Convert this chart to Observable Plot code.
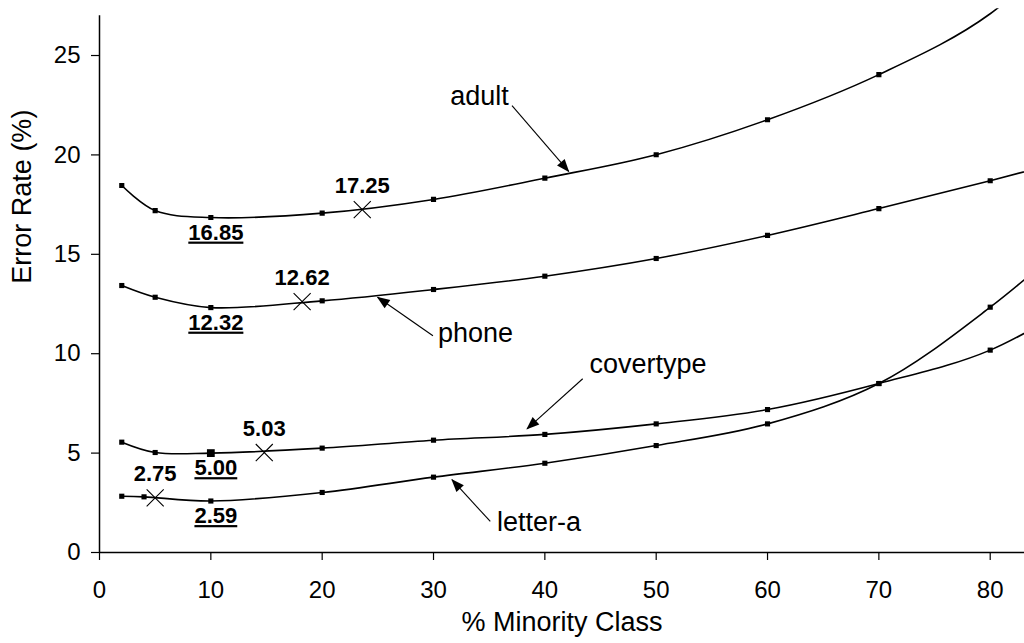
<!DOCTYPE html>
<html><head><meta charset="utf-8">
<script src="https://cdn.jsdelivr.net/npm/d3@7"></script>
<script src="https://cdn.jsdelivr.net/npm/@observablehq/plot@0.6"></script>
<style>
html,body{margin:0;padding:0;background:#fff;}
.ul text{text-decoration:underline;}
</style></head>
<body><div id="chart"></div>
<script>
// ---- data ----
const minority      = [2, 5, 10, 20, 30, 40, 50, 60, 70, 80, 90];
const minorityLetter = [2, 4, 10, 20, 30, 40, 50, 60, 70, 80, 90];
const adultErr     = [18.46, 17.20, 16.85, 17.07, 17.76, 18.83, 20.01, 21.77, 24.04, 27.1, 32.4];
const phoneErr     = [13.43, 12.84, 12.32, 12.66, 13.23, 13.90, 14.79, 15.95, 17.30, 18.70, 20.2];
const covertypeErr = [5.55, 5.03, 5.00, 5.25, 5.65, 5.94, 6.47, 7.19, 8.50, 10.18, 13.3];
const letterErr    = [2.83, 2.80, 2.59, 3.02, 3.79, 4.49, 5.38, 6.47, 8.50, 12.34, 17.1];

// cost-based optimum markers (X) and their values
const crossSeries = ["adult", "phone", "covertype", "letter-a"];
const crossX      = [23.6, 18.2, 14.8, 5.0];
const crossY      = [17.25, 12.62, 5.03, 2.75];

// series name labels and their arrows (data coordinates)
const labelNames = ["adult", "phone", "covertype", "letter-a"];
const labelX     = [31.5, 30.4, 44.0, 35.7];
const labelY     = [22.95, 11.03, 9.47, 1.52];
const arrowX1    = [37.05, 29.95, 43.40, 35.10];
const arrowY1    = [22.48, 10.90, 8.74, 1.56];
const arrowX2    = [42.14, 24.98, 38.40, 31.66];
const arrowY2    = [19.17, 12.84, 6.22, 3.66];

const xTicks = [0, 10, 20, 30, 40, 50, 60, 70, 80];
const yTicks = [0, 5, 10, 15, 20, 25];
const yAxisMax = 27;

// ---- build tables ----
const seriesDefs = [
  ["adult", minority, adultErr],
  ["phone", minority, phoneErr],
  ["covertype", minority, covertypeErr],
  ["letter-a", minorityLetter, letterErr]
];
const rows = [];
for (const [name, xs, ys] of seriesDefs) xs.forEach((x, i) => rows.push({series: name, x, y: ys[i]}));
const visible = rows.filter(d => d.x <= 83 && d.y <= yAxisMax);
const minRows = rows.filter(d => d.x === 10);
const crosses = crossSeries.map((s, i) => ({series: s, x: crossX[i], y: crossY[i]}));
const labels = labelNames.map((s, i) => ({text: s, x: labelX[i], y: labelY[i]}));
const arrows = labelNames.map((s, i) => ({x1: arrowX1[i], y1: arrowY1[i], x2: arrowX2[i], y2: arrowY2[i]}));

const FONT = "'Liberation Sans', Arial, Helvetica, sans-serif";

function filledArrow(color) {
  const ns = "http://www.w3.org/2000/svg";
  const m = document.createElementNS(ns, "marker");
  m.setAttribute("viewBox", "-14 -6 16 12");
  m.setAttribute("markerWidth", "16");
  m.setAttribute("markerHeight", "12");
  m.setAttribute("refX", "0");
  m.setAttribute("refY", "0");
  m.setAttribute("markerUnits", "userSpaceOnUse");
  m.setAttribute("orient", "auto");
  m.setAttribute("overflow", "visible");
  const p = document.createElementNS(ns, "path");
  p.setAttribute("d", "M1,0L-12,-5L-12,5Z");
  p.setAttribute("fill", color || "black");
  p.setAttribute("stroke", "none");
  m.appendChild(p);
  return m;
}

function build(marker) {
  return Plot.plot({
    width: 1024,
    height: 643,
    marginLeft: 99,
    marginRight: 0,
    marginTop: 8.3,
    marginBottom: 91,
    style: {fontFamily: FONT, background: "white", color: "black", overflow: "visible"},
    x: {domain: [0, 83.08]},
    y: {domain: [0, 27.35]},
    marks: [
      Plot.axisX({ticks: xTicks, tickSize: 8, tickPadding: 20, fontSize: 24, label: null, stroke: "black", strokeWidth: 1.2}),
      Plot.axisY({ticks: yTicks, tickSize: 8, tickPadding: 11, fontSize: 24, label: null, stroke: "black", strokeWidth: 1.2}),
      Plot.ruleY([0], {stroke: "black", strokeWidth: 1.5}),
      Plot.ruleX([0], {y1: 0, y2: yAxisMax, stroke: "black", strokeWidth: 1.5}),
      Plot.line(rows, {x: "x", y: "y", z: "series", curve: "catmull-rom", stroke: "black", strokeWidth: 1.6, clip: true}),
      Plot.dot(visible, {x: "x", y: "y", symbol: "square", r: 2.9, fill: "black", clip: true}),
      Plot.dot(minRows.filter(d => d.series === "covertype"), {x: "x", y: "y", symbol: "square", r: 4.4, fill: "black"}),
      Plot.dot(crosses, {x: "x", y: "y", symbol: "times", r: 7.8, stroke: "black", strokeWidth: 1.1}),
      Plot.text(crosses, {x: "x", y: "y", text: d => d.y.toFixed(2), dy: -24, dx: 0, fontWeight: "bold", fontSize: 22, fill: "black"}),
      Plot.text(minRows, {x: "x", y: "y", text: d => d.y.toFixed(2), dy: 15, dx: 5, fontWeight: "bold", fontSize: 22, fill: "black", className: "ul"}),
      Plot.link(arrows, {x1: "x1", y1: "y1", x2: "x2", y2: "y2", stroke: "black", strokeWidth: 1.1, markerEnd: marker}),
      Plot.text(labels, {x: "x", y: "y", text: "text", textAnchor: "start", fontSize: 27, fill: "black"}),
      Plot.text([0], {frameAnchor: "bottom", text: () => "% Minority Class", dy: 78, fontSize: 27, fill: "black"}),
      Plot.text([0], {frameAnchor: "left", text: () => "Error Rate (%)", dx: -77, dy: 3, rotate: -90, fontSize: 27, fill: "black"})
    ]
  });
}

let chart;
try { chart = build(filledArrow); } catch (e) { chart = build("arrow"); }
// ensure the minimum-value labels are underlined
d3.select(chart).selectAll(".ul text").style("text-decoration", "underline");
document.getElementById("chart").appendChild(chart);
</script>
</body></html>
